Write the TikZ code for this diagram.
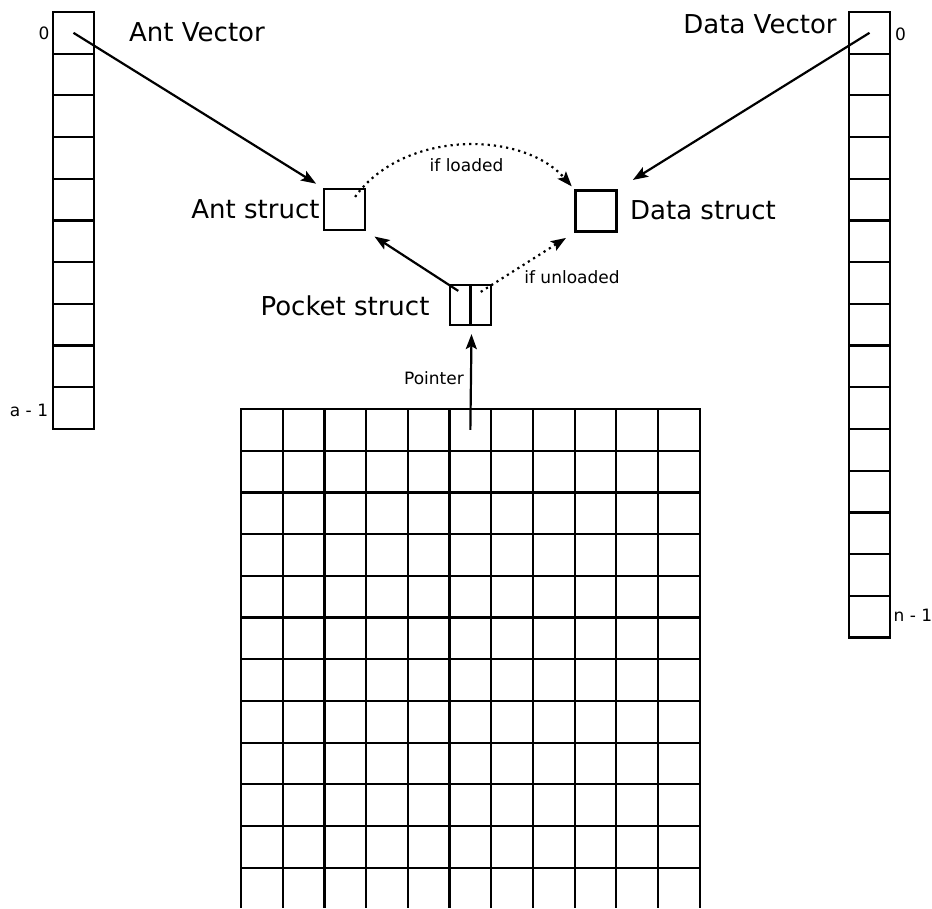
\documentclass[tikz,border=0pt]{standalone}
\usepackage{fontspec}
\setmainfont{DejaVu Sans}
\usetikzlibrary{arrows.meta}

\tikzstyle{Cell}=[rectangle,draw=black,line width=1.1pt,inner sep=0pt,
  minimum width=20.85pt,minimum height=20.85pt]
\tikzstyle{Struct}=[rectangle,draw=black,line width=1.1pt,inner sep=0pt,
  minimum width=20.5pt,minimum height=20.5pt]
\tikzstyle{HalfStruct}=[Struct,minimum width=10.25pt,minimum height=20pt]
\tikzstyle{BigText}=[inner sep=0pt,font=\fontsize{13}{15}\selectfont]
\tikzstyle{SmallText}=[inner sep=0pt,font=\fontsize{8.5}{10}\selectfont]
\tikzstyle{ArrowObject}=[black,line width=1.1pt,
  -{Stealth[length=7.5pt,width=5.5pt,inset=1.5pt]}]
\tikzstyle{DottedArrow}=[ArrowObject,dotted]

\begin{document}
\begin{tikzpicture}[x=0.5pt, y=-0.5pt]
		\useasboundingbox (0,0) rectangle (932,909);
		
		% Ant Vector
		\foreach \i in {0,...,9}
		  \draw(73.5,32.85+41.7*\i) node[Cell] (AntCell\i) {};
		\draw(44,33) node[SmallText] (AntIdxFirst) {0};
		\draw(29,410) node[SmallText] (AntIdxLast) {a - 1};
		\draw(197,32.5) node[BigText] (AntVecLabel) {Ant Vector};
		
		% Data Vector
		\foreach \i in {0,...,14}
		  \draw(869.5,32.85+41.7*\i) node[Cell] (DataCell\i) {};
		\draw(900.5,34) node[SmallText] (DataIdxFirst) {0};
		\draw(913,615) node[SmallText] (DataIdxLast) {n - 1};
		\draw(760,24) node[BigText] (DataVecLabel) {Data Vector};
		
		% Structs
		\draw(344.5,209.5) node[Struct] (AntStruct) {};
		\draw(596,211) node[Struct] (DataStruct) {};
		\draw(460.25,305) node[HalfStruct] (PocketLeft) {};
		\draw(480.75,305) node[HalfStruct] (PocketRight) {};
		\draw(255.5,209) node[BigText] (AntStructLabel) {Ant struct};
		\draw(703,210) node[BigText] (DataStructLabel) {Data struct};
		\draw(345,306) node[BigText] (PocketLabel) {Pocket struct};
		
		% Grid
		\begin{scope}
		  \clip (0,0) rectangle (932,907);
		  \foreach \c in {0,...,10}
		    \foreach \r in {0,...,11}
		      \draw(261.85+41.7*\c,429.85+41.7*\r) node[Cell] (GridCell\c-\r) {};
		\end{scope}
		
		% Arrows
		\draw[ArrowObject,shorten >=4pt] (AntCell0.center) -- (AntStruct.north west);
		\draw[ArrowObject,shorten >=9pt] (DataCell0.center) -- (DataStruct.north east);
		\draw[ArrowObject,shorten >=5pt] ([shift={(-2,7)}]PocketLeft.north)
		  -- (AntStruct.south east);
		\draw[ArrowObject,shorten >=4pt] (GridCell5-0.center) -- (PocketLeft.south east);
		\draw(434,378) node[SmallText] (PointerLabel) {Pointer};
		
		% Dotted arrows
		\draw[DottedArrow,shorten >=2pt] ([shift={(-11,9)}]AntStruct.north east)
		  .. controls (403,130) and (522,130) .. (DataStruct.north west);
		\draw(466.5,165) node[SmallText] (LoadedLabel) {if loaded};
		\draw[DottedArrow,shorten >=5pt] ([shift={(0,8)}]PocketRight.north)
		  -- (DataStruct.south west);
		\draw(572,277.5) node[SmallText] (UnloadedLabel) {if unloaded};
		
	\end{tikzpicture}
\end{document}
